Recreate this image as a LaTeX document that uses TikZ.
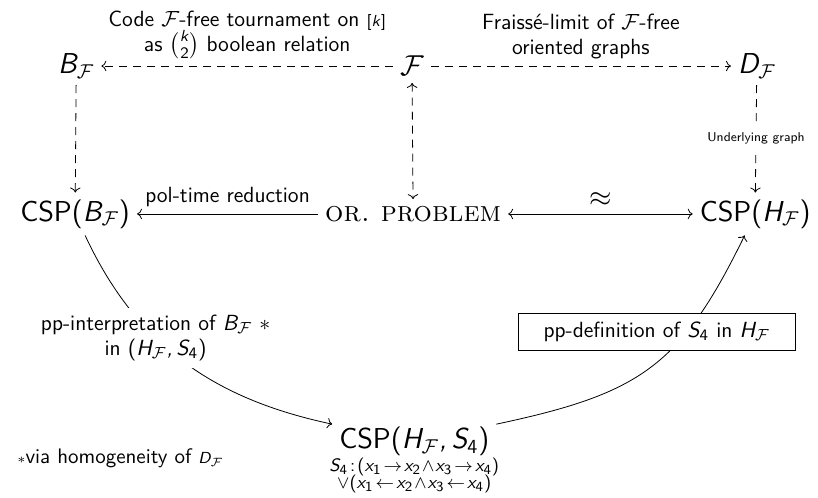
\documentclass[tikz,border=0pt]{standalone}
\usepackage{amsmath}
\usetikzlibrary{arrows.meta}
\renewcommand{\familydefault}{\sfdefault}
% sans serif math letters and digits
\DeclareMathVersion{sans}
\SetSymbolFont{operators}{sans}{OT1}{cmss}{m}{n}
\SetSymbolFont{letters}{sans}{OT1}{cmss}{m}{sl}
\mathcode`\,="612C
\newcommand{\tightlines}{\lineskiplimit=-5pt\relax}

\begin{document}
\mathversion{sans}
\begin{tikzpicture}[
    every node/.style={font=\fontsize{11}{12.5}\selectfont},
    big/.style={font=\Large},
    dasharrow/.style={-{To}, dash pattern=on 4pt off 3pt},
    dashboth/.style={{To}-{To}, dash pattern=on 4pt off 3pt},
  ]
  \def\cF{\mathcal{F}}
  \useasboundingbox (0,0) rectangle (14.375,-8.734);

  % top row
  \node[big] (bf) at (1.34,-1.16) {$B_{\cF}$};
  \node[big] (fam) at (7.24,-1.16) {$\cF$};
  \node[big] (df) at (13.30,-1.16) {$D_{\cF}$};

  % middle row
  \node[big] (cspb) at (1.32,-3.76) {CSP$(B_{\cF})$};
  \node[big] (orp) at (7.26,-3.76) {\rmfamily\scshape or.\ problem};
  \node[big] (csph) at (13.27,-3.76) {CSP$(H_{\cF})$};

  % bottom
  \node[big] (csphs) at (7.28,-7.76) {CSP$(H_{\cF},S_4)$};
  \node[font=\fontsize{9.3}{8.4}\selectfont\tightlines, align=center,
    anchor=north, inner sep=0pt, yshift=2.5pt] (sfour)
    at (csphs.south) {$S_4\!:\!(x_1\!\to\! x_2\!\wedge\! x_3\!\to\! x_4)$\\
      $\vee(x_1\!\leftarrow\! x_2\!\wedge\! x_3\!\leftarrow\! x_4)$};

  \draw[dasharrow] (fam) -- (bf)
    node[midway, above, align=center] {Code $\cF$-free tournament on {\footnotesize$[k]$}\\
      as $\binom{k}{2}$ boolean relation};
  \draw[dasharrow] (fam) -- (df)
    node[midway, above, align=center] {Fraiss\'e-limit of $\cF$-free\\oriented graphs};
  \draw[dasharrow] (bf) -- (cspb);
  \draw[dasharrow] (df) -- (csph)
    node[midway, fill=white, font=\fontsize{6.4}{7.5}\selectfont] {Underlying graph};
  \draw[dashboth] (fam) -- (orp);

  \draw[-{To}] (orp) -- (cspb) node[midway, above] {pol-time reduction};
  \draw[{To}-{To}] (orp) -- (csph) node[midway, above, font=\Large] {$\approx$};

  \draw[-{To}] (cspb) to[out=-65, in=168]
    node[pos=.38, fill=white, align=center] {pp-interpretation of $B_{\cF}$ $\ast$\\in $(H_{\cF},S_4)$}
    (csphs);
  \draw[-{To}] (csphs) to[out=12, in=-116, looseness=1.2] (csph);
  \node[draw, fill=white, minimum width=4.87cm, minimum height=.65cm] (ppdef) at (11.54,-5.83)
    {pp-definition of $S_4$ in $H_{\cF}$};

  \node[anchor=west, font=\fontsize{10.5}{12}\selectfont] (note) at (0.18,-8.05)
    {$\scriptstyle\ast$via homogeneity of {\footnotesize$D_{\cF}$}};
\end{tikzpicture}
\end{document}
